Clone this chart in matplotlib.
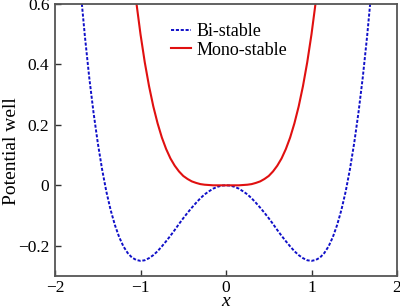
import matplotlib
matplotlib.use("Agg")
import matplotlib.pyplot as plt

x_bi = [-1.70, -1.65, -1.60, -1.55, -1.50, -1.45, -1.40, -1.35, -1.30, -1.25, -1.20, -1.15, -1.10,
        -1.05, -1.00, -0.95, -0.90, -0.85, -0.80, -0.75, -0.70, -0.65, -0.60, -0.55, -0.50, -0.45,
        -0.40, -0.35, -0.30, -0.25, -0.20, -0.15, -0.10, -0.05, 0.00, 0.05, 0.10, 0.15, 0.20, 0.25,
        0.30, 0.35, 0.40, 0.45, 0.50, 0.55, 0.60, 0.65, 0.70, 0.75, 0.80, 0.85, 0.90, 0.95, 1.00,
        1.05, 1.10, 1.15, 1.20, 1.25, 1.30, 1.35, 1.40, 1.45, 1.50, 1.55, 1.60, 1.65, 1.70]
y_bi = [0.643, 0.492, 0.358, 0.242, 0.141, 0.054, -0.020, -0.081, -0.131, -0.171, -0.202, -0.224, -0.239,
        -0.247, -0.250, -0.248, -0.241, -0.231, -0.218, -0.202, -0.185, -0.167, -0.148, -0.128, -0.109, -0.091,
        -0.074, -0.058, -0.043, -0.030, -0.020, -0.011, -0.005, -0.001, 0.000, -0.001, -0.005, -0.011, -0.020, -0.030,
        -0.043, -0.058, -0.074, -0.091, -0.109, -0.128, -0.148, -0.167, -0.185, -0.202, -0.218, -0.231, -0.241, -0.248, -0.250,
        -0.247, -0.239, -0.224, -0.202, -0.171, -0.131, -0.081, -0.020, 0.054, 0.141, 0.242, 0.358, 0.492, 0.643]

x_mono = [-1.05, -1.00, -0.95, -0.90, -0.85, -0.80, -0.75, -0.70, -0.65, -0.60, -0.55, -0.50, -0.45,
          -0.40, -0.35, -0.30, -0.25, -0.20, -0.15, -0.10, -0.05, 0.00, 0.05, 0.10, 0.15, 0.20, 0.25,
          0.30, 0.35, 0.40, 0.45, 0.50, 0.55, 0.60, 0.65, 0.70, 0.75, 0.80, 0.85, 0.90, 0.95, 1.00, 1.05]
y_mono = [0.608, 0.500, 0.407, 0.328, 0.261, 0.205, 0.158, 0.120, 0.089, 0.065, 0.046, 0.031, 0.021,
          0.013, 0.008, 0.004, 0.002, 0.001, 0.000, 0.000, 0.000, 0.000, 0.000, 0.000, 0.000, 0.001, 0.002,
          0.004, 0.008, 0.013, 0.021, 0.031, 0.046, 0.065, 0.089, 0.120, 0.158, 0.205, 0.261, 0.328, 0.407, 0.500, 0.608]

xticks = [-2, -1, 0, 1, 2]
yticks = [-0.2, 0, 0.2, 0.4, 0.6]
ytick_labels = ["\u22120.2", "0", "0.2", "0.4", "0.6"]
xtick_labels = ["\u22122", "\u22121", "0", "1", "2"]

plt.rcParams['font.family'] = ['Liberation Serif', 'DejaVu Serif']

fig = plt.figure(figsize=(4.0, 3.08), dpi=100)
ax = fig.add_axes([0.1375, 0.104, 0.855, 0.883])

ax.plot(x_bi, y_bi, color='#1010c8', lw=1.4, linestyle=(0, (1.6, 0.9)), label='Bi-stable')
ax.plot(x_mono, y_mono, color='#e01010', lw=1.5, label='Mono-stable')

ax.set_xlim(-2, 2)
ax.set_ylim(-0.3, 0.6)
ax.set_xticks(xticks)
ax.set_xticklabels(xtick_labels)
ax.set_yticks(yticks)
ax.set_yticklabels(ytick_labels)
ax.tick_params(direction='in', length=4, width=1, labelsize=12.5, colors='#333333', pad=4)
ax.tick_params(axis='x', pad=3)
ax.tick_params(labelcolor='black')
for s in ax.spines.values():
    s.set_color('#555555')
    s.set_linewidth(1.3)

ax.set_xlabel('x', fontsize=14, style='italic', labelpad=-2)
ax.set_ylabel('Potential well', fontsize=14)
ax.yaxis.set_label_coords(-0.103, 0.46)

leg = ax.legend(loc='upper center', bbox_to_anchor=(0.51, 0.97), frameon=False, fontsize=13,
                handlelength=1.1, handletextpad=0.3, labelspacing=0.1, borderaxespad=0.2)

fig.savefig('out.png', dpi=100)
